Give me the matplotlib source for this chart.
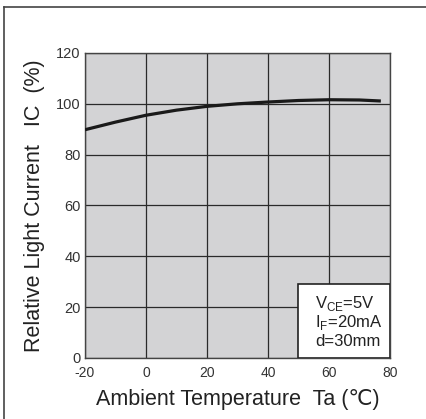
import matplotlib.pyplot as plt
import matplotlib.lines as mlines

# curve
temp = [-20, -10, 0, 10, 20, 30, 40, 50, 60, 70, 77]
rel_current = [89.8, 92.8, 95.5, 97.5, 99.0, 100.0, 100.7, 101.3, 101.6, 101.5, 101.1]

xticks = [-20, 0, 20, 40, 60, 80]
yticks = [0, 20, 40, 60, 80, 100, 120]

plt.rcParams['font.family'] = ['Liberation Sans', 'DejaVu Sans']

fig = plt.figure(figsize=(4.26, 4.19), dpi=100)
ax = fig.add_axes([0.1995, 0.1456, 0.716, 0.728])
ax.set_facecolor('#d3d3d5')

ax.plot(temp, rel_current, color='#1a1a1a', lw=2.3, solid_capstyle='butt', zorder=3)

ax.set_xlim(-20, 80)
ax.set_ylim(0, 120)
ax.set_xticks(xticks)
ax.set_yticks(yticks)
ax.set_xticklabels([str(t) for t in xticks], fontsize=10, color='#333333')
ax.set_yticklabels([str(t) for t in yticks], fontsize=10.5, color='#333333')
ax.tick_params(axis='x', length=0, pad=6)
ax.tick_params(axis='y', length=0, pad=3)
ax.grid(True, color='#2a2a2a', lw=0.9)
for s in ax.spines.values():
    s.set_color('#444444')
    s.set_linewidth(1.0)

ax.set_xlabel('Ambient Temperature  Ta (\u2103)', fontsize=15.5, color='#222222', labelpad=6)
ax.set_ylabel('Relative Light Current   IC  (%)', fontsize=15.5, color='#222222', labelpad=8)

# condition box in lower right corner
box = plt.Rectangle((50, 0), 30, 29, facecolor='white', edgecolor='#222222', lw=1.2, zorder=4)
ax.add_patch(box)
ax.text(0.755, 0.18, r'V$_{\mathregular{CE}}$=5V', transform=ax.transAxes, fontsize=12,
        color='#222222', va='center', zorder=5)
ax.text(0.755, 0.115, r'I$_{\mathregular{F}}$=20mA', transform=ax.transAxes, fontsize=12,
        color='#222222', va='center', zorder=5)
ax.text(0.755, 0.053, 'd=30mm', transform=ax.transAxes, fontsize=12,
        color='#222222', va='center', zorder=5)

# outer frame (top and left only)
fig.add_artist(mlines.Line2D([3.5 / 426, 1], [1 - 7.5 / 419, 1 - 7.5 / 419], color='#444444', lw=1.2))
fig.add_artist(mlines.Line2D([3.5 / 426, 3.5 / 426], [0, 1 - 7.5 / 419], color='#444444', lw=1.2))

fig.savefig('out.png', dpi=100)
